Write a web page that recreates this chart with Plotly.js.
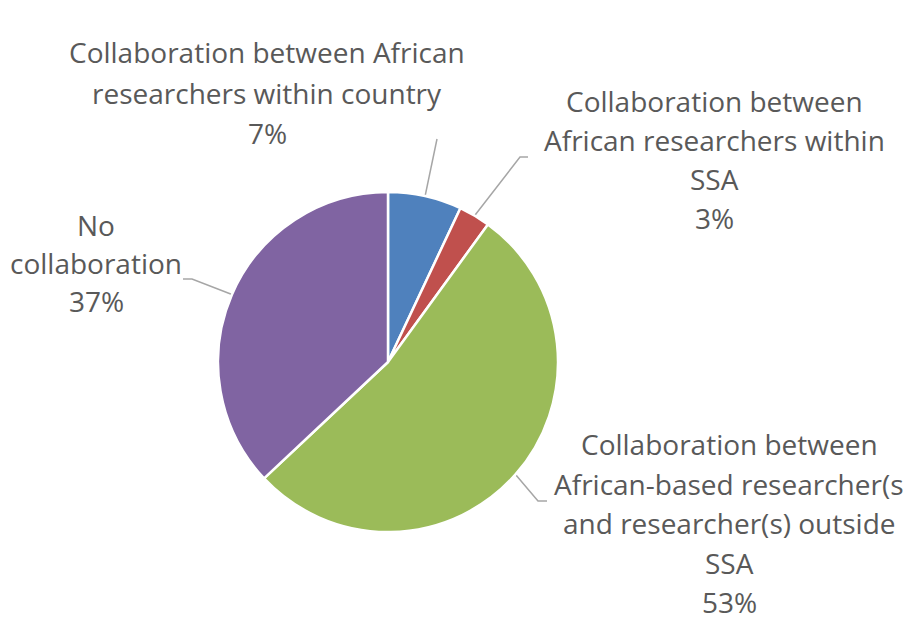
<!DOCTYPE html>
<html>
<head>
<meta charset="utf-8">
<script src="https://cdn.plot.ly/plotly-3.0.1.min.js"></script>
<style>html,body{margin:0;padding:0;background:#fff;}#chart{width:904px;height:630px;}</style>
</head>
<body>
<div id="chart"></div>
<script>
// ---- data ----
const categories = [
  "Collaboration between African researchers within country",
  "Collaboration between African researchers within SSA",
  "Collaboration between African-based researcher(s) and researcher(s) outside SSA",
  "No collaboration"
];
const values = [7, 3, 53, 37];
const labelLines = [
  ["Collaboration between African", "researchers within country"],
  ["Collaboration between", "African researchers within", "SSA"],
  ["Collaboration between", "African-based researcher(s", "and researcher(s) outside", "SSA"],
  ["No", "collaboration"]
];
const colors = ["#4F81BD", "#C0504D", "#9BBB59", "#8064A2"];

// ---- layout geometry (pixels) ----
const W = 904, H = 630;
const cx = 388, cy = 362, R = 170;
const labelPos = [
  {x: 267, y0: 52, dy: 40.5},
  {x: 714, y0: 101, dy: 39},
  {x: 729, y0: 444, dy: 39.6},
  {x: 96, y0: 225, dy: 38}
];
const leaderEnds = [
  [[437, 139]],
  [[520, 157], [528, 157]],
  [[538, 501], [547, 501]],
  [[192, 279], [183, 279]]
];

const px = x => x / W, py = y => 1 - y / H;
const total = values.reduce((a, b) => a + b, 0);

const annotations = [];
const shapes = [];
let cum = 0;
values.forEach((v, i) => {
  const lines = labelLines[i].concat([Math.round(v / total * 100) + "%"]);
  const p = labelPos[i];
  lines.forEach((t, k) => {
    annotations.push({
      xref: "paper", yref: "paper", x: px(p.x), y: py(p.y0 + k * p.dy),
      xanchor: "center", yanchor: "middle", showarrow: false, text: t,
      font: {family: "Open Sans, sans-serif", size: 28, color: "#595959"}
    });
  });
  const theta = 2 * Math.PI * (cum + v / 2) / total;
  cum += v;
  const ex = cx + R * Math.sin(theta), ey = cy - R * Math.cos(theta);
  let path = "M" + px(ex) + "," + py(ey);
  leaderEnds[i].forEach(pt => { path += " L" + px(pt[0]) + "," + py(pt[1]); });
  shapes.push({type: "path", xref: "paper", yref: "paper", path: path,
    line: {color: "#A6A6A6", width: 1.5}, layer: "below"});
});

const trace = {
  type: "pie",
  labels: categories,
  values: values,
  sort: false,
  direction: "clockwise",
  rotation: 0,
  textinfo: "none",
  hoverinfo: "label+percent",
  marker: {colors: colors, line: {color: "#FFFFFF", width: 2.5}},
  domain: {x: [px(cx - R), px(cx + R)], y: [py(cy + R), py(cy - R)]}
};

const layout = {
  width: W, height: H,
  margin: {l: 0, r: 0, t: 0, b: 0},
  showlegend: false,
  paper_bgcolor: "#FFFFFF",
  annotations: annotations,
  shapes: shapes
};

Plotly.newPlot("chart", [trace], layout, {displayModeBar: false, staticPlot: true});
</script>
</body>
</html>
